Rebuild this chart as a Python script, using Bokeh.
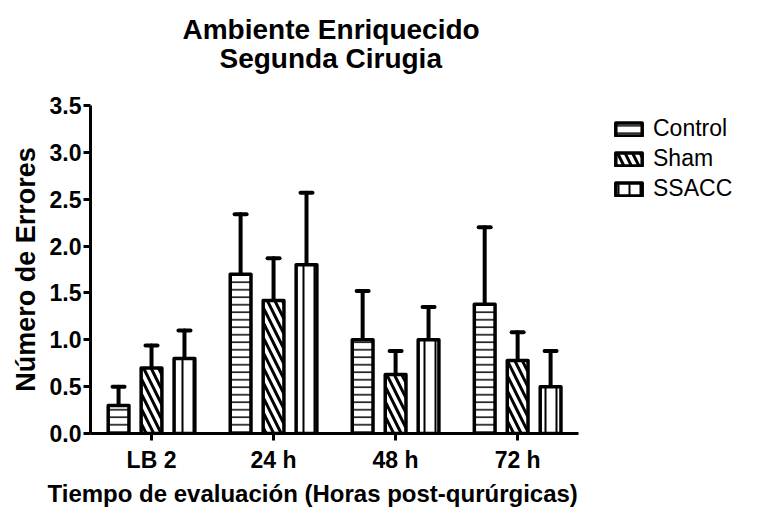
from bokeh.plotting import figure
from bokeh.models import (ColumnDataSource, Range1d, Whisker, TeeHead, Legend, LegendItem,
                          Title, FixedTicker, NumeralTickFormatter)
from bokeh.transform import dodge
from bokeh.embed import file_html
from bokeh.resources import INLINE

categories = ["LB 2", "24 h", "48 h", "72 h"]
series_names = ["Control", "Sham", "SSACC"]
control = [0.30, 1.70, 1.00, 1.38]
control_err = [0.20, 0.64, 0.52, 0.82]
sham = [0.70, 1.42, 0.63, 0.78]
sham_err = [0.24, 0.45, 0.25, 0.30]
ssacc = [0.80, 1.80, 1.00, 0.50]
ssacc_err = [0.30, 0.77, 0.35, 0.38]
y_ticks = [0.0, 0.5, 1.0, 1.5, 2.0, 2.5, 3.0, 3.5]

FONT = "Liberation Sans"
xi = list(range(len(categories)))

# frame spans the whole right side so the legend is not clipped; the x axis line is bounded
p = figure(x_range=Range1d(-0.5, 4.99), y_range=Range1d(0, 3.5),
           width=760, height=512, output_backend="svg", toolbar_location=None,
           min_border_left=90, min_border_right=0, min_border_top=105, min_border_bottom=79)
p.outline_line_color = None
p.grid.visible = False
p.background_fill_color = "white"

series = [
    (control, control_err, -0.27, "-", 7.5, 1.5),
    (sham, sham_err, 0.0, "\\", 15, 3.0),
    (ssacc, ssacc_err, 0.27, "|", 11, 2.0),
]

renderers = []
for (vals, errs, off, hp, hs, hw) in series:
    src = ColumnDataSource(dict(x=xi, val=vals,
                                up=[v + e for v, e in zip(vals, errs)]))
    xs = dodge("x", off)
    w = Whisker(source=src, base=xs, upper="up", lower="val",
                line_width=4, line_color="black", line_cap="round",
                upper_head=TeeHead(size=12, line_width=4, line_color="black", line_cap="round"),
                lower_head=None)
    p.add_layout(w)
    r = p.vbar(x=xs, top="val", width=0.17, source=src,
               fill_color="white", line_color="black", line_width=3.5, line_join="round",
               hatch_pattern=hp, hatch_scale=hs, hatch_weight=hw, hatch_color="black")
    renderers.append(r)

legend = Legend(items=[LegendItem(label=n, renderers=[r]) for n, r in zip(series_names, renderers)],
                location=(522, 231), margin=0, padding=0, spacing=3,
                glyph_width=33, glyph_height=16, label_height=27, label_standoff=8,
                label_text_font=FONT, label_text_font_size="23px", label_text_color="black",
                border_line_color=None, background_fill_alpha=0)
p.add_layout(legend, "center")

# axes
p.xaxis.ticker = FixedTicker(ticks=xi)
p.xaxis.major_label_overrides = {i: c for i, c in zip(xi, categories)}
p.xaxis.bounds = (-0.5, len(categories) - 0.5)
p.yaxis.ticker = FixedTicker(ticks=y_ticks)
p.yaxis.formatter = NumeralTickFormatter(format="0.0")
for ax in [p.xaxis[0], p.yaxis[0]]:
    ax.axis_line_width = 3
    ax.axis_line_color = "black"
    ax.major_tick_line_width = 3
    ax.major_tick_out = 7
    ax.major_tick_in = 0
    ax.minor_tick_line_color = None
    ax.major_label_text_font = FONT
    ax.major_label_text_font_style = "bold"
    ax.major_label_text_font_size = "23px"
    ax.major_label_text_color = "black"
    ax.axis_label_text_font = FONT
    ax.axis_label_text_font_style = "bold"
    ax.axis_label_text_color = "black"
p.yaxis.major_label_standoff = 2
p.xaxis.major_label_standoff = 6
p.yaxis.axis_label = "Número de Errores"
p.yaxis.axis_label_text_font_size = "27px"
p.yaxis.axis_label_standoff = 6

# x axis title, placed under the bounded axis rather than centred on the whole frame
p.add_layout(Title(text="Tiempo de evaluación (Horas post-qurúrgicas)", align="left", offset=-43,
                   text_font=FONT, text_font_style="bold", text_font_size="24px",
                   text_color="black", standoff=4), "below")

p.title.text = ""
# spacer between frame and titles
p.add_layout(Title(text=" ", text_font_size="10px", standoff=19), "above")
p.add_layout(Title(text="Segunda Cirugia", align="left", offset=129, text_font=FONT, text_font_style="bold",
                   text_font_size="28px", text_color="black", standoff=0), "above")
p.add_layout(Title(text="Ambiente Enriquecido", align="left", offset=92, text_font=FONT, text_font_style="bold",
                   text_font_size="28px", text_color="black", standoff=-8), "above")

open("out.html", "w").write(file_html(p, INLINE))
